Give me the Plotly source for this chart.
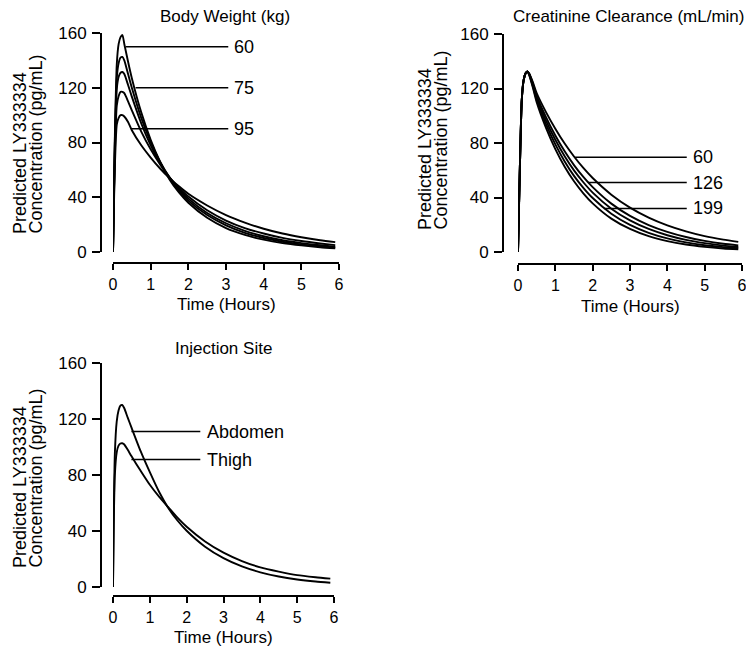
import plotly.graph_objects as go

# ---------------- data ----------------
time_h = [0, 0.02, 0.05, 0.1, 0.15, 0.2, 0.25, 0.3, 0.4, 0.5, 0.75, 1, 1.25, 1.5, 1.75,
          2, 2.5, 3, 3.5, 4, 4.5, 5, 5.5, 5.9]

# Body weight panel (five predicted profiles)
bw_a = [0, 35, 85, 137, 152, 157, 158.5, 152, 139, 127, 102, 82, 66, 53, 43.5, 36, 25, 17.5, 12.5, 9, 6.5, 4.8, 3.5, 2.7]
bw_b = [0, 34, 82, 127, 138, 142, 142.5, 140, 130, 120, 98, 80.5, 66, 54.5, 45, 37.5, 27, 19.5, 14, 10.2, 7.5, 5.6, 4.2, 3.3]
bw_c = [0, 33, 79, 119, 128, 131, 131.5, 130, 122, 113.5, 94, 78, 65, 54.5, 46, 39, 28.5, 21, 15.5, 11.5, 8.6, 6.5, 4.9, 3.9]
bw_d = [0, 31, 72, 107, 114, 117, 117, 116, 110, 103.5, 88, 75, 64, 54.5, 47, 40.5, 30.5, 23, 17.5, 13.5, 10.3, 8, 6.2, 5]
bw_e = [0, 28, 63, 93, 98, 100, 100, 99, 95, 89, 78, 69, 61, 54, 48, 42.5, 34, 27, 21.5, 17, 13.5, 10.8, 8.6, 7.2]
bw_series = [bw_a, bw_b, bw_c, bw_d, bw_e]
bw_labels = ["60", "75", "95"]
bw_label_y = [150, 120, 90]
bw_label_x0 = [0.34, 0.6, 0.49]
bw_label_x1 = [3.06, 3.06, 3.06]
bw_text_x = [3.17, 3.17, 3.17]

# Creatinine clearance panel
cr_a = [0, 25, 62, 111, 126, 131, 132.6, 131, 124.5, 116.7, 102.7, 90.5, 79.6, 70.1, 61.7, 54.3, 42.1, 32.6, 25.3, 19.6, 15.2, 11.7, 9.1, 7.4]
cr_b = [0, 25, 62, 111, 126, 131, 132.6, 130.8, 123.5, 114.6, 99.0, 85.5, 73.9, 63.8, 55.1, 47.6, 35.5, 26.5, 19.8, 14.8, 11.0, 8.2, 6.1, 4.9]
cr_c = [0, 25, 62, 111, 126, 131, 132.6, 130.5, 122.5, 113.1, 96.5, 82.4, 70.3, 59.9, 51.2, 43.6, 31.8, 23.2, 16.9, 12.3, 8.9, 6.5, 4.7, 3.7]
cr_d = [0, 25, 62, 111, 126, 131, 132.6, 130.2, 121.5, 111.6, 93.9, 79.0, 66.5, 55.9, 47.1, 39.6, 28.1, 19.9, 14.1, 10.0, 7.1, 5.0, 3.6, 2.7]
cr_e = [0, 25, 62, 111, 126, 131, 132.6, 129.8, 120.5, 109.9, 91.1, 75.5, 62.6, 51.9, 43.1, 35.7, 24.5, 16.9, 11.6, 8.0, 5.5, 3.8, 2.6, 1.9]
cr_series = [cr_a, cr_b, cr_c, cr_d, cr_e]
cr_labels = ["60", "126", "199"]
cr_label_y = [69.5, 51, 32]
cr_label_x0 = [1.53, 1.88, 2.3]
cr_label_x1 = [4.52, 4.52, 4.52]
cr_text_x = [4.64, 4.64, 4.64]

# Injection site panel
abdomen = [0, 50, 95, 118, 126, 129.5, 130, 128, 121, 114, 97, 82, 68, 56.5, 47.5, 40.2, 28.8, 20.6, 14.7, 10.5, 7.5, 5.4, 3.9, 3.0]
thigh = [0, 45, 80, 96, 101, 102.5, 102.7, 102, 98, 93.5, 83, 73, 64.5, 57, 49.5, 43, 32.5, 24.5, 18.5, 14, 11, 8.5, 7, 6]
site_series = [abdomen, thigh]
site_labels = ["Abdomen", "Thigh"]
site_label_y = [111, 91]
site_label_x0 = [0.5, 0.5]
site_label_x1 = [2.37, 2.37]
site_text_x = [2.5, 2.5]

x_ticks = [0, 1, 2, 3, 4, 5, 6]
y_ticks = [0, 40, 80, 120, 160]
panel_titles = ["Body Weight (kg)", "Creatinine Clearance (mL/min)", "Injection Site"]
x_title = "Time (Hours)"
y_title_lines = ["Predicted LY333334", "Concentration (pg/mL)"]

# ---------------- layout helpers ----------------
W, H = 754, 648
OFF = 8  # page body margin: the figure is drawn 8px right/down in the window
FONT = "Liberation Sans, Arial, Helvetica, sans-serif"


def px(x):
    return (x - OFF) / W


def py(y):
    return 1 - (y - OFF) / H


# panel geometry in window pixels
panels = [
    dict(xd=(113, 339), yd=(33, 252), yax=101, xax=263, title=(225, 17), xt=(226, 305), yt=(20, 35, 236)),
    dict(xd=(518, 742), yd=(34, 252), yax=503, xax=264, title=(628, 17), xt=(630, 306), yt=(425, 440, 232)),
    dict(xd=(113, 334), yd=(363, 587), yax=101, xax=596, title=(223, 348), xt=(223, 637), yt=(20, 35, 570)),
]

fig = go.Figure()

all_series = [bw_series, cr_series, site_series]
for i, series in enumerate(all_series):
    xa = "x" if i == 0 else f"x{i+1}"
    ya = "y" if i == 0 else f"y{i+1}"
    for s in series:
        fig.add_trace(go.Scatter(x=time_h, y=s, mode="lines", xaxis=xa, yaxis=ya,
                                 line=dict(color="black", width=1.9, shape="spline", smoothing=0.6),
                                 showlegend=False, hoverinfo="skip"))

axis_common = dict(showline=True, linecolor="black", linewidth=2, ticks="outside",
                   tickwidth=2, tickcolor="black", showgrid=False,
                   zeroline=False, automargin=False,
                   tickfont=dict(family=FONT, size=17, color="black"))

layout = dict(width=W, height=H,
              margin=dict(l=0, r=0, t=0, b=0, pad=0, autoexpand=False),
              paper_bgcolor="white", plot_bgcolor="white", showlegend=False,
              font=dict(family=FONT, color="black", size=17))

for i, p in enumerate(panels):
    xk = "xaxis" if i == 0 else f"xaxis{i+1}"
    yk = "yaxis" if i == 0 else f"yaxis{i+1}"
    layout[xk] = dict(axis_common, domain=[px(p["xd"][0]), px(p["xd"][1])], range=[0, 6],
                      tickvals=x_ticks, anchor="free", position=py(p["xax"]),
                      ticklen=6, ticklabelstandoff=1,
                      tickfont=dict(family=FONT, size=16, color="black"))
    layout[yk] = dict(axis_common, domain=[py(p["yd"][1]), py(p["yd"][0])], range=[0, 160],
                      tickvals=y_ticks, anchor="free", position=px(p["yax"]),
                      ticklen=8, ticklabelstandoff=2)

fig.update_layout(**layout)

# panel titles, x titles and two-line y titles
for i, p in enumerate(panels):
    fig.add_annotation(text=panel_titles[i], xref="paper", yref="paper",
                       x=px(p["title"][0]), y=py(p["title"][1]), xanchor="center", yanchor="middle",
                       showarrow=False, font=dict(family=FONT, size=17, color="black"))
    fig.add_annotation(text=x_title, xref="paper", yref="paper",
                       x=px(p["xt"][0]), y=py(p["xt"][1]), xanchor="center", yanchor="middle",
                       showarrow=False, font=dict(family=FONT, size=17, color="black"))
    for j, line in enumerate(y_title_lines):
        fig.add_annotation(text=line, xref="paper", yref="paper", textangle=-90,
                           x=px(p["yt"][j]), y=py(p["yt"][2]), xanchor="center", yanchor="bottom",
                           showarrow=False, font=dict(family=FONT, size=18, color="black"))

# callout lines and labels
callouts = [
    (bw_labels, bw_label_y, bw_label_x0, bw_label_x1, bw_text_x),
    (cr_labels, cr_label_y, cr_label_x0, cr_label_x1, cr_text_x),
    (site_labels, site_label_y, site_label_x0, site_label_x1, site_text_x),
]
for i, (labs, ys, x0s, x1s, txs) in enumerate(callouts):
    xa = "x" if i == 0 else f"x{i+1}"
    ya = "y" if i == 0 else f"y{i+1}"
    for lab, yv, x0, x1, tx in zip(labs, ys, x0s, x1s, txs):
        fig.add_shape(type="line", xref=xa, yref=ya, x0=x0, x1=x1, y0=yv, y1=yv,
                      line=dict(color="black", width=1.5))
        fig.add_annotation(text=lab, xref=xa, yref=ya, x=tx, y=yv, xanchor="left",
                           yanchor="middle", showarrow=False,
                           font=dict(family=FONT, size=18, color="black"))

fig.write_html("out.html")
